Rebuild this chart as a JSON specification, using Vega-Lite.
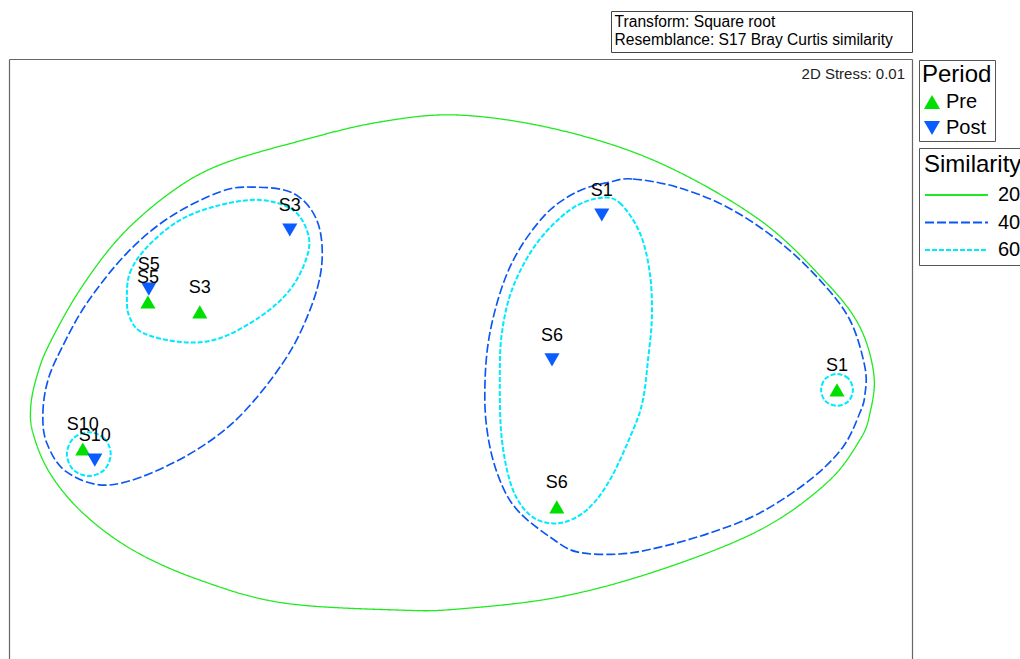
{
  "$schema": "https://vega.github.io/schema/vega-lite/v6.json",
  "width": 903,
  "height": 600,
  "autosize": "none",
  "padding": {"left": 9, "top": 59, "right": 108, "bottom": 0},
  "background": "white",
  "config": {
    "font": "Liberation Sans",
    "view": {"stroke": null}
  },
  "datasets": {
    "samples": [
      {"site": "S5", "period": "Pre", "x": -1.040, "y": 0.190},
      {"site": "S3", "period": "Pre", "x": -0.867, "y": 0.157},
      {"site": "S10", "period": "Pre", "x": -1.257, "y": -0.300},
      {"site": "S6", "period": "Pre", "x": 0.323, "y": -0.493},
      {"site": "S1", "period": "Pre", "x": 1.257, "y": -0.103},
      {"site": "S5", "period": "Post", "x": -1.037, "y": 0.233},
      {"site": "S3", "period": "Post", "x": -0.567, "y": 0.430},
      {"site": "S10", "period": "Post", "x": -1.217, "y": -0.337},
      {"site": "S1", "period": "Post", "x": 0.473, "y": 0.480},
      {"site": "S6", "period": "Post", "x": 0.307, "y": -0.003}
    ],
    "contours": [
      {"level": "20", "ring": "g", "ord": 1, "x": -1.423, "y": -0.247},
      {"level": "20", "ring": "g", "ord": 2, "x": -1.430, "y": -0.153},
      {"level": "20", "ring": "g", "ord": 3, "x": -1.407, "y": -0.047},
      {"level": "20", "ring": "g", "ord": 4, "x": -1.367, "y": 0.053},
      {"level": "20", "ring": "g", "ord": 5, "x": -1.267, "y": 0.230},
      {"level": "20", "ring": "g", "ord": 6, "x": -1.133, "y": 0.407},
      {"level": "20", "ring": "g", "ord": 7, "x": -0.967, "y": 0.553},
      {"level": "20", "ring": "g", "ord": 8, "x": -0.800, "y": 0.647},
      {"level": "20", "ring": "g", "ord": 9, "x": -0.533, "y": 0.727},
      {"level": "20", "ring": "g", "ord": 10, "x": -0.267, "y": 0.790},
      {"level": "20", "ring": "g", "ord": 11, "x": 0.000, "y": 0.813},
      {"level": "20", "ring": "g", "ord": 12, "x": 0.333, "y": 0.763},
      {"level": "20", "ring": "g", "ord": 13, "x": 0.667, "y": 0.653},
      {"level": "20", "ring": "g", "ord": 14, "x": 1.000, "y": 0.463},
      {"level": "20", "ring": "g", "ord": 15, "x": 1.223, "y": 0.253},
      {"level": "20", "ring": "g", "ord": 16, "x": 1.333, "y": 0.107},
      {"level": "20", "ring": "g", "ord": 17, "x": 1.380, "y": -0.053},
      {"level": "20", "ring": "g", "ord": 18, "x": 1.367, "y": -0.180},
      {"level": "20", "ring": "g", "ord": 19, "x": 1.333, "y": -0.270},
      {"level": "20", "ring": "g", "ord": 20, "x": 1.223, "y": -0.413},
      {"level": "20", "ring": "g", "ord": 21, "x": 1.000, "y": -0.570},
      {"level": "20", "ring": "g", "ord": 22, "x": 0.667, "y": -0.703},
      {"level": "20", "ring": "g", "ord": 23, "x": 0.333, "y": -0.793},
      {"level": "20", "ring": "g", "ord": 24, "x": 0.000, "y": -0.833},
      {"level": "20", "ring": "g", "ord": 25, "x": -0.200, "y": -0.837},
      {"level": "20", "ring": "g", "ord": 26, "x": -0.590, "y": -0.813},
      {"level": "20", "ring": "g", "ord": 27, "x": -0.867, "y": -0.737},
      {"level": "20", "ring": "g", "ord": 28, "x": -1.090, "y": -0.637},
      {"level": "20", "ring": "g", "ord": 29, "x": -1.257, "y": -0.513},
      {"level": "20", "ring": "g", "ord": 30, "x": -1.367, "y": -0.380},

      {"level": "40", "ring": "b1", "ord": 1, "x": -1.377, "y": -0.280},
      {"level": "40", "ring": "b1", "ord": 2, "x": -1.390, "y": -0.180},
      {"level": "40", "ring": "b1", "ord": 3, "x": -1.373, "y": -0.070},
      {"level": "40", "ring": "b1", "ord": 4, "x": -1.327, "y": 0.037},
      {"level": "40", "ring": "b1", "ord": 5, "x": -1.243, "y": 0.187},
      {"level": "40", "ring": "b1", "ord": 6, "x": -1.110, "y": 0.353},
      {"level": "40", "ring": "b1", "ord": 7, "x": -0.967, "y": 0.473},
      {"level": "40", "ring": "b1", "ord": 8, "x": -0.800, "y": 0.557},
      {"level": "40", "ring": "b1", "ord": 9, "x": -0.693, "y": 0.573},
      {"level": "40", "ring": "b1", "ord": 10, "x": -0.557, "y": 0.553},
      {"level": "40", "ring": "b1", "ord": 11, "x": -0.477, "y": 0.463},
      {"level": "40", "ring": "b1", "ord": 12, "x": -0.460, "y": 0.320},
      {"level": "40", "ring": "b1", "ord": 13, "x": -0.500, "y": 0.163},
      {"level": "40", "ring": "b1", "ord": 14, "x": -0.590, "y": -0.013},
      {"level": "40", "ring": "b1", "ord": 15, "x": -0.757, "y": -0.213},
      {"level": "40", "ring": "b1", "ord": 16, "x": -0.957, "y": -0.347},
      {"level": "40", "ring": "b1", "ord": 17, "x": -1.167, "y": -0.420},
      {"level": "40", "ring": "b1", "ord": 18, "x": -1.310, "y": -0.377},

      {"level": "40", "ring": "b2", "ord": 1, "x": 0.500, "y": 0.590},
      {"level": "40", "ring": "b2", "ord": 2, "x": 0.577, "y": 0.600},
      {"level": "40", "ring": "b2", "ord": 3, "x": 0.723, "y": 0.573},
      {"level": "40", "ring": "b2", "ord": 4, "x": 0.890, "y": 0.507},
      {"level": "40", "ring": "b2", "ord": 5, "x": 1.057, "y": 0.397},
      {"level": "40", "ring": "b2", "ord": 6, "x": 1.200, "y": 0.263},
      {"level": "40", "ring": "b2", "ord": 7, "x": 1.300, "y": 0.130},
      {"level": "40", "ring": "b2", "ord": 8, "x": 1.350, "y": -0.027},
      {"level": "40", "ring": "b2", "ord": 9, "x": 1.350, "y": -0.120},
      {"level": "40", "ring": "b2", "ord": 10, "x": 1.333, "y": -0.180},
      {"level": "40", "ring": "b2", "ord": 11, "x": 1.277, "y": -0.293},
      {"level": "40", "ring": "b2", "ord": 12, "x": 1.167, "y": -0.403},
      {"level": "40", "ring": "b2", "ord": 13, "x": 1.000, "y": -0.513},
      {"level": "40", "ring": "b2", "ord": 14, "x": 0.833, "y": -0.580},
      {"level": "40", "ring": "b2", "ord": 15, "x": 0.667, "y": -0.627},
      {"level": "40", "ring": "b2", "ord": 16, "x": 0.533, "y": -0.650},
      {"level": "40", "ring": "b2", "ord": 17, "x": 0.390, "y": -0.643},
      {"level": "40", "ring": "b2", "ord": 18, "x": 0.300, "y": -0.593},
      {"level": "40", "ring": "b2", "ord": 19, "x": 0.200, "y": -0.513},
      {"level": "40", "ring": "b2", "ord": 20, "x": 0.143, "y": -0.427},
      {"level": "40", "ring": "b2", "ord": 21, "x": 0.100, "y": -0.293},
      {"level": "40", "ring": "b2", "ord": 22, "x": 0.083, "y": -0.127},
      {"level": "40", "ring": "b2", "ord": 23, "x": 0.100, "y": 0.087},
      {"level": "40", "ring": "b2", "ord": 24, "x": 0.167, "y": 0.307},
      {"level": "40", "ring": "b2", "ord": 25, "x": 0.277, "y": 0.473},
      {"level": "40", "ring": "b2", "ord": 26, "x": 0.390, "y": 0.557},

      {"level": "60", "ring": "c1", "ord": 1, "x": -1.110, "y": 0.197},
      {"level": "60", "ring": "c1", "ord": 2, "x": -1.100, "y": 0.287},
      {"level": "60", "ring": "c1", "ord": 3, "x": -1.043, "y": 0.373},
      {"level": "60", "ring": "c1", "ord": 4, "x": -0.933, "y": 0.463},
      {"level": "60", "ring": "c1", "ord": 5, "x": -0.800, "y": 0.513},
      {"level": "60", "ring": "c1", "ord": 6, "x": -0.667, "y": 0.530},
      {"level": "60", "ring": "c1", "ord": 7, "x": -0.557, "y": 0.497},
      {"level": "60", "ring": "c1", "ord": 8, "x": -0.507, "y": 0.420},
      {"level": "60", "ring": "c1", "ord": 9, "x": -0.510, "y": 0.340},
      {"level": "60", "ring": "c1", "ord": 10, "x": -0.567, "y": 0.230},
      {"level": "60", "ring": "c1", "ord": 11, "x": -0.667, "y": 0.140},
      {"level": "60", "ring": "c1", "ord": 12, "x": -0.807, "y": 0.067},
      {"level": "60", "ring": "c1", "ord": 13, "x": -0.933, "y": 0.057},
      {"level": "60", "ring": "c1", "ord": 14, "x": -1.057, "y": 0.087},
      {"level": "60", "ring": "c1", "ord": 15, "x": -1.100, "y": 0.137},

      {"level": "60", "ring": "c2", "ord": 1, "x": 0.467, "y": 0.537},
      {"level": "60", "ring": "c2", "ord": 2, "x": 0.533, "y": 0.520},
      {"level": "60", "ring": "c2", "ord": 3, "x": 0.600, "y": 0.420},
      {"level": "60", "ring": "c2", "ord": 4, "x": 0.633, "y": 0.287},
      {"level": "60", "ring": "c2", "ord": 5, "x": 0.640, "y": 0.140},
      {"level": "60", "ring": "c2", "ord": 6, "x": 0.627, "y": -0.003},
      {"level": "60", "ring": "c2", "ord": 7, "x": 0.610, "y": -0.137},
      {"level": "60", "ring": "c2", "ord": 8, "x": 0.577, "y": -0.237},
      {"level": "60", "ring": "c2", "ord": 9, "x": 0.500, "y": -0.403},
      {"level": "60", "ring": "c2", "ord": 10, "x": 0.423, "y": -0.503},
      {"level": "60", "ring": "c2", "ord": 11, "x": 0.333, "y": -0.547},
      {"level": "60", "ring": "c2", "ord": 12, "x": 0.243, "y": -0.527},
      {"level": "60", "ring": "c2", "ord": 13, "x": 0.177, "y": -0.437},
      {"level": "60", "ring": "c2", "ord": 14, "x": 0.140, "y": -0.270},
      {"level": "60", "ring": "c2", "ord": 15, "x": 0.133, "y": -0.070},
      {"level": "60", "ring": "c2", "ord": 16, "x": 0.140, "y": 0.087},
      {"level": "60", "ring": "c2", "ord": 17, "x": 0.177, "y": 0.240},
      {"level": "60", "ring": "c2", "ord": 18, "x": 0.257, "y": 0.387},
      {"level": "60", "ring": "c2", "ord": 19, "x": 0.367, "y": 0.497},

      {"level": "60", "ring": "c3", "ord": 1, "x": -1.164, "y": -0.317},
      {"level": "60", "ring": "c3", "ord": 2, "x": -1.185, "y": -0.265},
      {"level": "60", "ring": "c3", "ord": 3, "x": -1.237, "y": -0.244},
      {"level": "60", "ring": "c3", "ord": 4, "x": -1.289, "y": -0.265},
      {"level": "60", "ring": "c3", "ord": 5, "x": -1.310, "y": -0.317},
      {"level": "60", "ring": "c3", "ord": 6, "x": -1.289, "y": -0.369},
      {"level": "60", "ring": "c3", "ord": 7, "x": -1.237, "y": -0.390},
      {"level": "60", "ring": "c3", "ord": 8, "x": -1.185, "y": -0.369},

      {"level": "60", "ring": "c4", "ord": 1, "x": 1.310, "y": -0.103},
      {"level": "60", "ring": "c4", "ord": 2, "x": 1.295, "y": -0.065},
      {"level": "60", "ring": "c4", "ord": 3, "x": 1.257, "y": -0.050},
      {"level": "60", "ring": "c4", "ord": 4, "x": 1.219, "y": -0.065},
      {"level": "60", "ring": "c4", "ord": 5, "x": 1.204, "y": -0.103},
      {"level": "60", "ring": "c4", "ord": 6, "x": 1.219, "y": -0.141},
      {"level": "60", "ring": "c4", "ord": 7, "x": 1.257, "y": -0.156},
      {"level": "60", "ring": "c4", "ord": 8, "x": 1.295, "y": -0.141}
    ],
    "notes": [
      {"note": "Transform: Square root"},
      {"note": "Resemblance: S17 Bray Curtis similarity"}
    ],
    "stress": [
      {"label": "2D Stress: 0.01"}
    ]
  },
  "layer": [
    {
      "data": {"name": "contours"},
      "mark": {"type": "line", "interpolate": "cardinal-closed", "clip": false},
      "encoding": {
        "x": {
          "field": "x", "type": "quantitative",
          "scale": {"domain": [-1.503, 1.507], "nice": false, "zero": false},
          "axis": {"orient": "top", "title": null, "labels": false, "ticks": false, "grid": false, "domain": true, "domainColor": "#666", "domainWidth": 1.2}
        },
        "y": {
          "field": "y", "type": "quantitative",
          "scale": {"domain": [-1, 1], "nice": false, "zero": false},
          "axis": {"orient": "left", "title": null, "labels": false, "ticks": false, "grid": false, "domain": true, "domainColor": "#666", "domainWidth": 1.2}
        },
        "detail": {"field": "ring"},
        "order": {"field": "ord", "type": "quantitative"},
        "color": {
          "field": "level", "type": "nominal",
          "scale": {"domain": ["20", "40", "60"], "range": ["#1fea1f", "#0a55f5", "#00eaff"]},
          "legend": {
            "title": "Similarity", "orient": "none", "legendX": 910, "legendY": 89,
            "strokeColor": "#555", "padding": 5, "titleFontSize": 24, "titleFontWeight": "normal",
            "titleColor": "#000", "labelFontSize": 20, "labelColor": "#000", "symbolType": "stroke",
            "symbolSize": 3969, "symbolStrokeWidth": 2, "labelOffset": 9, "clipHeight": 18,
            "rowPadding": 7.5, "titlePadding": 9
          }
        },
        "strokeDash": {
          "field": "level", "type": "nominal",
          "scale": {"domain": ["20", "40", "60"], "range": [[1, 0], [9, 3], [5, 2]]},
          "legend": {
            "title": "Similarity", "orient": "none", "legendX": 910, "legendY": 89,
            "strokeColor": "#555", "padding": 5, "titleFontSize": 24, "titleFontWeight": "normal",
            "titleColor": "#000", "labelFontSize": 20, "labelColor": "#000", "symbolType": "stroke",
            "symbolSize": 3969, "symbolStrokeWidth": 2, "labelOffset": 9, "clipHeight": 18,
            "rowPadding": 7.5, "titlePadding": 9
          }
        },
        "strokeWidth": {
          "field": "level", "type": "ordinal",
          "scale": {"domain": ["20", "40", "60"], "range": [1.3, 2, 2]},
          "legend": null
        }
      }
    },
    {
      "data": {"name": "samples"},
      "mark": {"type": "point", "filled": true, "opacity": 1, "size": 230},
      "encoding": {
        "x": {"field": "x", "type": "quantitative", "axis": null},
        "y": {"field": "y", "type": "quantitative", "axis": null},
        "color": {
          "field": "period", "type": "nominal",
          "scale": {"domain": ["Pre", "Post"], "range": ["#00e000", "#0a5cff"]},
          "legend": {
            "title": "Period", "orient": "none", "legendX": 910, "legendY": 1,
            "strokeColor": "#555", "padding": 3, "titleFontSize": 24, "titleFontWeight": "normal",
            "titleColor": "#000", "labelFontSize": 20, "labelColor": "#000", "symbolSize": 260,
            "labelOffset": 4, "rowPadding": 6, "titlePadding": 5
          }
        },
        "shape": {
          "field": "period", "type": "nominal",
          "scale": {"domain": ["Pre", "Post"], "range": ["triangle-up", "triangle-down"]},
          "legend": {
            "title": "Period", "orient": "none", "legendX": 910, "legendY": 1,
            "strokeColor": "#555", "padding": 3, "titleFontSize": 24, "titleFontWeight": "normal",
            "titleColor": "#000", "labelFontSize": 20, "labelColor": "#000", "symbolSize": 260,
            "labelOffset": 4, "rowPadding": 6, "titlePadding": 5
          }
        }
      }
    },
    {
      "data": {"name": "samples"},
      "mark": {"type": "text", "dy": -24, "fontSize": 18, "color": "#000", "baseline": "middle", "align": "center"},
      "encoding": {
        "x": {"field": "x", "type": "quantitative", "axis": null},
        "y": {
          "field": "y", "type": "quantitative",
          "axis": {"orient": "right", "title": null, "labels": false, "ticks": false, "grid": false, "domain": true, "domainColor": "#666", "domainWidth": 1.2}
        },
        "text": {"field": "site"}
      }
    },
    {
      "data": {"name": "stress"},
      "mark": {"type": "text", "align": "right", "baseline": "top", "dx": -7, "dy": 8, "fontSize": 15, "color": "#222"},
      "encoding": {
        "x": {"datum": 1.507, "type": "quantitative", "axis": null},
        "y": {"datum": 1, "type": "quantitative", "axis": null},
        "text": {"field": "label"}
      }
    },
    {
      "data": {"name": "notes"},
      "mark": {"type": "point", "opacity": 0, "size": 0},
      "encoding": {
        "shape": {
          "field": "note", "type": "nominal",
          "scale": {"domain": ["Transform: Square root", "Resemblance: S17 Bray Curtis similarity"], "range": ["circle", "circle"]},
          "legend": {
            "title": null, "orient": "none", "legendX": 602, "legendY": -48,
            "strokeColor": "#444", "padding": 3, "labelFontSize": 15.6, "labelColor": "#000", "labelLimit": 500,
            "labelAlign": "left", "symbolSize": 1, "symbolOpacity": 0, "symbolStrokeWidth": 0,
            "symbolOffset": 286, "labelOffset": -301, "rowPadding": 1.5
          }
        }
      }
    }
  ],
  "resolve": {
    "scale": {"color": "independent", "shape": "independent", "strokeDash": "independent"},
    "axis": {"x": "independent", "y": "independent"}
  }
}
